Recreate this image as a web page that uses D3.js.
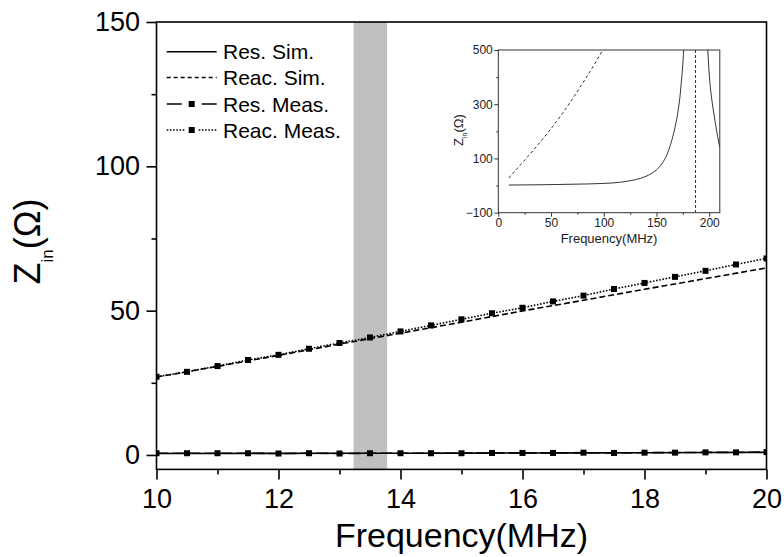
<!DOCTYPE html>
<html><head><meta charset="utf-8">
<script src="https://cdn.jsdelivr.net/npm/d3@7"></script>
<style>body{margin:0;background:#fff}svg{display:block;font-family:"Liberation Sans",Arial,sans-serif}</style>
</head><body><svg id="c" width="784" height="557"></svg>
<script>
// ---------- data ----------
const freqSim   = [10, 11, 12, 13, 14, 15, 16, 17, 18, 19, 20];
const resSim    = [0.50, 0.52, 0.55, 0.58, 0.61, 0.65, 0.69, 0.73, 0.78, 0.84, 0.90];
const reacSim   = [27.0, 30.7, 34.5, 38.4, 42.2, 46.0, 49.9, 53.6, 57.4, 61.1, 64.8];
const freqMeas  = [10, 10.5, 11, 11.5, 12, 12.5, 13, 13.5, 14, 14.5, 15, 15.5, 16, 16.5, 17, 17.5, 18, 18.5, 19, 19.5, 20];
const resMeas   = [0.6, 0.6, 0.6, 0.6, 0.5, 0.6, 0.5, 0.6, 0.6, 0.6, 0.6, 0.7, 0.7, 0.7, 0.8, 0.7, 0.8, 0.8, 0.9, 0.9, 1.0];
const reacMeas  = [27.1, 28.8, 30.8, 32.9, 34.7, 36.8, 38.8, 40.7, 42.8, 44.9, 47.0, 49.1, 51.0, 53.2, 55.2, 57.5, 59.6, 61.7, 63.8, 66.0, 68.1];
const bandRange = [13.23, 13.78];
const xTicks = [10, 12, 14, 16, 18, 20];
const xMinor = [11, 13, 15, 17, 19];
const yTicks = [0, 50, 100, 150];
const yMinor = [25, 75, 125];
const legendLabels = ["Res. Sim.", "Reac. Sim.", "Res. Meas.", "Reac. Meas."];

// inset
const insetReacF = [10, 20, 30, 40, 50, 60, 70, 80, 90, 99];
const insetReacV = [28, 72, 116, 162, 210, 262, 318, 378, 440, 500];
const insetResLowF = [10, 40, 70, 100, 115, 125, 135, 145, 150, 155, 160, 164, 167, 170, 172, 173.5, 174.8, 175.8];
const insetResLowV = [2, 3, 5, 8, 12, 18, 27, 44, 58, 80, 115, 160, 205, 265, 320, 380, 440, 500];
const insetResHighF = [198.6, 199.5, 200.5, 202, 204, 206, 208, 210];
const insetResHighV = [500, 440, 385, 330, 275, 225, 180, 140];
const insetResonance = 187;
const insetXTicks = [0, 50, 100, 150, 200];
const insetXMinor = [25, 75, 125, 175];
const insetYTicks = [-100, 100, 300, 500];
const insetYMinor = [0, 200, 400];

// ---------- main chart ----------
const svg = d3.select("#c");
const L = 156.5, R = 766.5, T = 22, B = 469.4;
const x = d3.scaleLinear().domain([10, 20]).range([L, R]);
const y = d3.scaleLinear().domain([-5, 150]).range([B, T]);

svg.append("defs").append("clipPath").attr("id", "clipMain")
  .append("rect").attr("x", L).attr("y", T).attr("width", R - L).attr("height", B - T);

// band
svg.append("rect").attr("x", x(bandRange[0])).attr("y", T)
  .attr("width", x(bandRange[1]) - x(bandRange[0])).attr("height", B - T)
  .attr("fill", "#c0c0c0");

const g = svg.append("g").attr("clip-path", "url(#clipMain)");
const line = d3.line().x(d => x(d[0])).y(d => y(d[1]));
const zipSim = v => freqSim.map((f, i) => [f, v[i]]);
const zipMeas = v => freqMeas.map((f, i) => [f, v[i]]);

g.append("path").datum(zipSim(reacSim)).attr("d", line)
  .attr("fill", "none").attr("stroke", "#000").attr("stroke-width", 1.6).attr("stroke-dasharray", "6,3");
g.append("path").datum(zipMeas(reacMeas)).attr("d", line)
  .attr("fill", "none").attr("stroke", "#000").attr("stroke-width", 1.6).attr("stroke-dasharray", "1.6,1.6");
g.append("path").datum(zipMeas(resMeas)).attr("d", line)
  .attr("fill", "none").attr("stroke", "#000").attr("stroke-width", 1.6).attr("stroke-dasharray", "12,4");
g.append("path").datum(zipSim(resSim)).attr("d", line)
  .attr("fill", "none").attr("stroke", "#000").attr("stroke-width", 1.6);

const ms = 6;
[resMeas, reacMeas].forEach(v => {
  g.selectAll(null).data(zipMeas(v)).enter().append("rect")
    .attr("x", d => x(d[0]) - ms / 2).attr("y", d => y(d[1]) - ms / 2)
    .attr("width", ms).attr("height", ms).attr("fill", "#000");
});

// frame
svg.append("rect").attr("x", L).attr("y", T).attr("width", R - L).attr("height", B - T)
  .attr("fill", "none").attr("stroke", "#000").attr("stroke-width", 1.6);

// axes
const styleAxis = (sel) => {
  sel.select(".domain").remove();
  sel.selectAll(".tick line").attr("stroke", "#000").attr("stroke-width", 1.6);
};
svg.append("g").attr("transform", `translate(${L},0)`)
  .call(d3.axisLeft(y).tickValues(yTicks).tickSize(10).tickPadding(6.5).tickFormat(d3.format("d")))
  .call(styleAxis)
  .call(s => s.selectAll("text").attr("font-size", 27).attr("fill", "#000").attr("font-family", "Liberation Sans, Arial, sans-serif"));
svg.append("g").attr("transform", `translate(${L},0)`)
  .call(d3.axisLeft(y).tickValues(yMinor).tickSize(5).tickFormat(""))
  .call(styleAxis);
svg.append("g").attr("transform", `translate(0,${B})`)
  .call(d3.axisBottom(x).tickValues(xTicks).tickSize(10).tickPadding(9.4).tickFormat(d3.format("d")))
  .call(styleAxis)
  .call(s => s.selectAll("text").attr("font-size", 27).attr("fill", "#000").attr("font-family", "Liberation Sans, Arial, sans-serif"));
svg.append("g").attr("transform", `translate(0,${B})`)
  .call(d3.axisBottom(x).tickValues(xMinor).tickSize(5).tickFormat(""))
  .call(styleAxis);

// axis titles
svg.append("text").attr("x", (L + R) / 2).attr("y", 547).attr("text-anchor", "middle")
  .attr("font-size", 34).attr("fill", "#000").text("Frequency(MHz)");
const yt = svg.append("text").attr("transform", "translate(40,241.5) rotate(-90)")
  .attr("text-anchor", "middle").attr("font-size", 36).attr("fill", "#000");
yt.append("tspan").text("Z");
yt.append("tspan").attr("font-size", 17).attr("dy", 13).text("in");
yt.append("tspan").attr("dy", -13).text("(Ω)");

// legend
const legY = [51.7, 77.5, 104, 130];
const lx0 = 166.7, lx1 = 216.7;
const legStyles = [
  { dash: null, marker: false },
  { dash: "4,3", marker: false },
  { dash: "15,20,15", marker: true },
  { dash: "1.6,1.6", marker: true }
];
legendLabels.forEach((lab, i) => {
  const st = legStyles[i];
  const ln = svg.append("line").attr("x1", lx0).attr("x2", lx1).attr("y1", legY[i]).attr("y2", legY[i])
    .attr("stroke", "#000").attr("stroke-width", 1.6);
  if (st.dash) ln.attr("stroke-dasharray", st.dash);
  if (i === 3) {
    svg.append("rect").attr("x", (lx0 + lx1) / 2 - 6).attr("y", legY[i] - 3).attr("width", 12).attr("height", 6).attr("fill", "#fff");
  }
  if (st.marker) {
    svg.append("rect").attr("x", (lx0 + lx1) / 2 - ms / 2).attr("y", legY[i] - ms / 2)
      .attr("width", ms).attr("height", ms).attr("fill", "#000");
  }
  svg.append("text").attr("x", 223).attr("y", legY[i] + 7.5).attr("font-size", 21).attr("fill", "#000").text(lab);
});

// ---------- inset ----------
const iL = 498.3, iR = 719.8, iT = 50, iB = 212.7;
const ix = d3.scaleLinear().domain([0, 210]).range([iL, iR]);
const iy = d3.scaleLinear().domain([-100, 500]).range([iB, iT]);
const ic = "#333";
svg.append("rect").attr("x", iL).attr("y", iT).attr("width", iR - iL).attr("height", iB - iT).attr("fill", "#fff");
svg.select("defs").append("clipPath").attr("id", "clipInset")
  .append("rect").attr("x", iL).attr("y", iT).attr("width", iR - iL).attr("height", iB - iT);
const ig = svg.append("g").attr("clip-path", "url(#clipInset)");
const iline = d3.line().x(d => ix(d[0])).y(d => iy(d[1])).curve(d3.curveMonotoneX);
ig.append("path").datum(insetReacF.map((f, i) => [f, insetReacV[i]])).attr("d", iline)
  .attr("fill", "none").attr("stroke", ic).attr("stroke-width", 1).attr("stroke-dasharray", "3,2.5");
ig.append("path").datum(insetResLowF.map((f, i) => [f, insetResLowV[i]])).attr("d", iline)
  .attr("fill", "none").attr("stroke", ic).attr("stroke-width", 1);
ig.append("path").datum(insetResHighF.map((f, i) => [f, insetResHighV[i]])).attr("d", iline)
  .attr("fill", "none").attr("stroke", ic).attr("stroke-width", 1);
ig.append("line").attr("x1", ix(insetResonance)).attr("x2", ix(insetResonance))
  .attr("y1", iT).attr("y2", iB).attr("stroke", ic).attr("stroke-width", 1).attr("stroke-dasharray", "3,2");
svg.append("rect").attr("x", iL).attr("y", iT).attr("width", iR - iL).attr("height", iB - iT)
  .attr("fill", "none").attr("stroke", ic).attr("stroke-width", 1);

const styleIn = (sel) => {
  sel.select(".domain").remove();
  sel.selectAll(".tick line").attr("stroke", ic).attr("stroke-width", 1);
  sel.selectAll("text").attr("font-size", 12).attr("fill", "#222").attr("font-family", "Liberation Sans, Arial, sans-serif");
};
svg.append("g").attr("transform", `translate(${iL},0)`)
  .call(d3.axisLeft(iy).tickValues(insetYTicks).tickSize(4).tickPadding(1.5).tickFormat(d3.format("d")))
  .call(styleIn);
svg.append("g").attr("transform", `translate(${iL},0)`)
  .call(d3.axisLeft(iy).tickValues(insetYMinor).tickSize(2).tickFormat(""))
  .call(styleIn);
svg.append("g").attr("transform", `translate(0,${iB})`)
  .call(d3.axisBottom(ix).tickValues(insetXTicks).tickSize(4).tickPadding(2).tickFormat(d3.format("d")))
  .call(styleIn);
svg.append("g").attr("transform", `translate(0,${iB})`)
  .call(d3.axisBottom(ix).tickValues(insetXMinor).tickSize(2).tickFormat(""))
  .call(styleIn);
svg.append("text").attr("x", (iL + iR) / 2).attr("y", 243).attr("text-anchor", "middle")
  .attr("font-size", 13).attr("fill", "#222").text("Frequency(MHz)");
const iyt = svg.append("text").attr("transform", "translate(463,130) rotate(-90)")
  .attr("text-anchor", "middle").attr("font-size", 13).attr("fill", "#222");
iyt.append("tspan").text("Z");
iyt.append("tspan").attr("font-size", 7).attr("dy", 4).text("in");
iyt.append("tspan").attr("dy", -4).text("(Ω)");
</script></body></html>
